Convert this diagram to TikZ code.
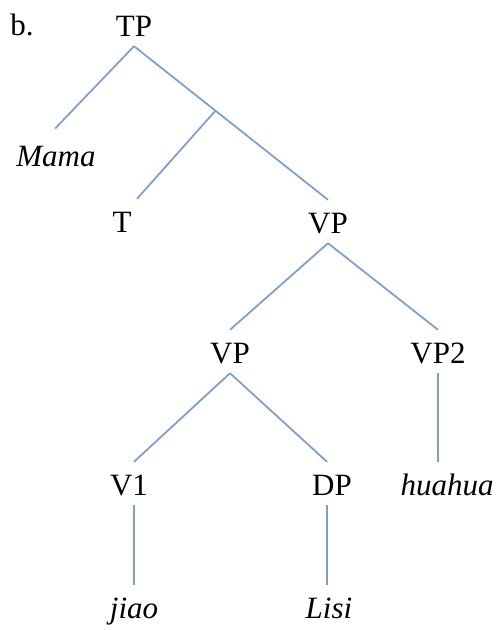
\documentclass[tikz,border=0pt]{standalone}
\usepackage{fontspec}
\setmainfont{Liberation Serif}
\usetikzlibrary{positioning,calc}
\definecolor{branchblue}{RGB}{128,160,204}

\begin{document}
\begin{tikzpicture}
[ x=1pt, y=-1pt,
  cat/.style={ anchor=base, inner sep=0pt,
    text height=33pt, text depth=10pt,
    font=\fontsize{31}{37}\selectfont
    },
  word/.style={ cat, font=\fontsize{31}{37}\selectfont\itshape },
  branch/.style={ draw=branchblue, line width=1.8pt }
]
\useasboundingbox (0,0) rectangle (499,630);
%\draw[help lines] (0,0) grid (499,630);
\node[cat]  (b)      at (22,35)   {b.};
\node[cat]  (tp)     at (134,36)  {TP};
\node[word] (mama)   at (56,166)  {Mama};
\node[cat]  (t)      at (122,232) {T};
\node[cat]  (vp)     at (328,233) {VP};
\node[cat]  (vpa)    at (230,363) {VP};
\node[cat]  (vpb)    at (438,363) {VP2};
\node[cat]  (vone)   at (129,495) {V1};
\node[cat]  (dp)     at (332,495) {DP};
\node[word] (huahua) at (447,495) {huahua};
\node[word] (jiao)   at (134,618) {jiao};
\node[word] (lisi)   at (329,618) {Lisi};

\coordinate (tpmid) at ($(tp.south)!0.42!(vp.north)$);

 \foreach \a/\b in {tp/vp, vp/vpa, vp/vpb}{
    \draw[branch] (\a.south) -- (\b.north);
  }
 \draw[branch, shorten >=6pt] (tp.south) -- ([xshift=-5pt]mama.north);
 \draw[branch] (tpmid) -- ([xshift=15pt]t.north);
 \draw[branch] (vpa.south) -- ([xshift=5pt]vone.north);
 \draw[branch] (vpa.south) -- ([xshift=-5pt]dp.north);
 \draw[branch] ([xshift=5pt]vone.south) -- (jiao.north);
 \draw[branch] ([xshift=-5pt]dp.south) -- ([xshift=-5pt]dp.south |- lisi.north);
 \draw[branch] (vpb.south) -- (vpb.south |- huahua.north);
\end{tikzpicture}
\end{document}
